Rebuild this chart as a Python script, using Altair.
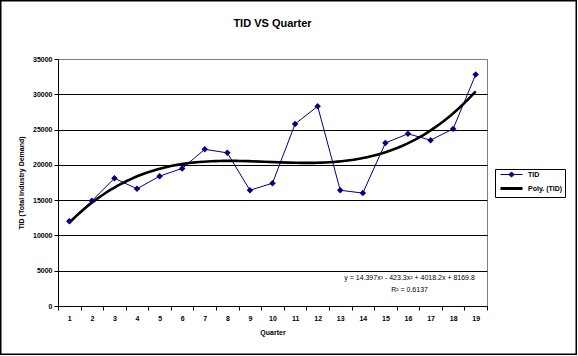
import altair as alt
import pandas as pd

# ---- data ----
quarters = list(range(1, 20))
tid = [12000, 14900, 18100, 16600, 18400, 19500, 22200, 21700, 16400, 17400,
       25800, 28300, 16400, 16000, 23100, 24400, 23500, 25100, 32800]
series_names = ["TID", "Poly. (TID)"]
series_colors = ["#000080", "#000000"]
y_ticks = [0, 5000, 10000, 15000, 20000, 25000, 30000, 35000]
eq_lines = ["y = 14.397x³ - 423.3x² + 4018.2x + 8169.8", "R² = 0.6137"]
eq_quarter = [16.07, 16.07]
eq_value = [3930, 2330]

FONT = "Liberation Sans"
W, H = 429, 247
PAD = {"left": 58, "top": 59, "right": 91, "bottom": 50}

df = pd.DataFrame({"Quarter": quarters, "TID": tid, "series": ["TID"] * len(quarters)})
df_eq = pd.DataFrame({"Quarter": eq_quarter, "TID": eq_value, "text": eq_lines})

bounds = [q - 0.5 for q in quarters] + [quarters[-1] + 0.5]
x_vals = sorted(set(quarters + bounds))

x_scale = alt.Scale(domain=[quarters[0] - 0.5, quarters[-1] + 0.5], nice=False, zero=False)
y_scale = alt.Scale(domain=[y_ticks[0], y_ticks[-1]], nice=False)

x_enc = alt.X(
    "Quarter:Q", scale=x_scale,
    axis=alt.Axis(
        values=x_vals, tickCount=len(x_vals) * 2, grid=False,
        labelExpr="datum.value % 1 === 0 ? '' + datum.value : ''",
        tickOpacity={"condition": {"test": "datum.value % 1 === 0", "value": 0}, "value": 1},
        tickSize=4, labelPadding=4, labelFlush=False, labelOverlap=False,
        title="Quarter", titlePadding=7,
    ),
)
y_enc = alt.Y(
    "TID:Q", scale=y_scale,
    axis=alt.Axis(
        values=y_ticks, tickCount=len(y_ticks) * 2, format="d", grid=True,
        gridColor={"condition": {"test": "datum.value === 35000", "value": "#808080"}, "value": "#000000"},
        tickSize=4, labelPadding=2, labelOverlap=False, labelFlush=False,
        title="TID (Total Industry Demand)", titlePadding=8,
    ),
)

color_enc = alt.Color(
    "series:N",
    scale=alt.Scale(domain=series_names, range=series_colors),
    legend=alt.Legend(
        title=None, orient="none", legendX=437, legendY=110,
        symbolSize=64,
        symbolType=alt.ExprRef("datum.value === 'TID' ? 'M0,0H5.5M2.1,0L2.75,-0.65L3.4,0L2.75,0.65Z' : 'M0,0H5.5'"),
        symbolStrokeWidth=alt.ExprRef("datum.value === 'TID' ? 1 : 3"),
        symbolFillColor=alt.ExprRef("datum.value === 'TID' ? '#000080' : 'transparent'"),
        symbolOpacity=1,
        labelFont=FONT, labelFontSize=7, labelFontWeight="bold", labelColor="#000000", labelOffset=24,
        padding=2, rowPadding=2,
        strokeColor="#000000", fillColor="#ffffff",
    ),
)

base = alt.Chart(df)

tid_line = base.mark_line(strokeWidth=1).encode(x=x_enc, y=y_enc, color=color_enc)
tid_pts = base.mark_point(shape="diamond", filled=True, size=42, opacity=1, color="#000080").encode(x=x_enc, y=y_enc)
trend = (
    base.transform_regression("Quarter", "TID", method="poly", order=3,
                              extent=[quarters[0], quarters[-1]])
    .transform_calculate(series="'Poly. (TID)'")
    .mark_line(strokeWidth=2.6)
    .encode(x=x_enc, y=y_enc, color=color_enc)
)
eq = alt.Chart(df_eq).mark_text(font=FONT, fontSize=7, color="#000000").encode(
    x=alt.X("Quarter:Q", scale=x_scale),
    y=alt.Y("TID:Q", scale=y_scale),
    text="text:N",
)
frame = alt.Chart(pd.DataFrame({"a": [0]})).mark_rect(
    fill="transparent", stroke="#000000", strokeWidth=1.5
).encode(
    x=alt.value(-PAD["left"] + 0.75), x2=alt.value(W + PAD["right"] - 1.75),
    y=alt.value(-PAD["top"] + 0.75), y2=alt.value(H + PAD["bottom"] - 1.75),
)

chart = (
    alt.layer(tid_line, trend, tid_pts, eq, frame)
    .properties(
        width=W, height=H,
        padding=PAD,
        autosize=alt.AutoSizeParams(type="none"),
        background="#ffffff",
        title=alt.TitleParams("TID VS Quarter", font=FONT, fontSize=11, fontWeight="bold",
                              color="#000000", anchor="middle", baseline="alphabetic",
                              offset=-38),
    )
    .configure_view(stroke="#808080", strokeWidth=1)
    .configure_axis(
        labelFont=FONT, labelFontSize=7, labelFontWeight="bold", labelColor="#000000",
        titleFont=FONT, titleFontSize=7, titleFontWeight="bold", titleColor="#000000",
        domainColor="#000000", tickColor="#000000", gridWidth=1,
    )
)

chart.save("out.html", embed_options={"renderer": "svg", "actions": False})
